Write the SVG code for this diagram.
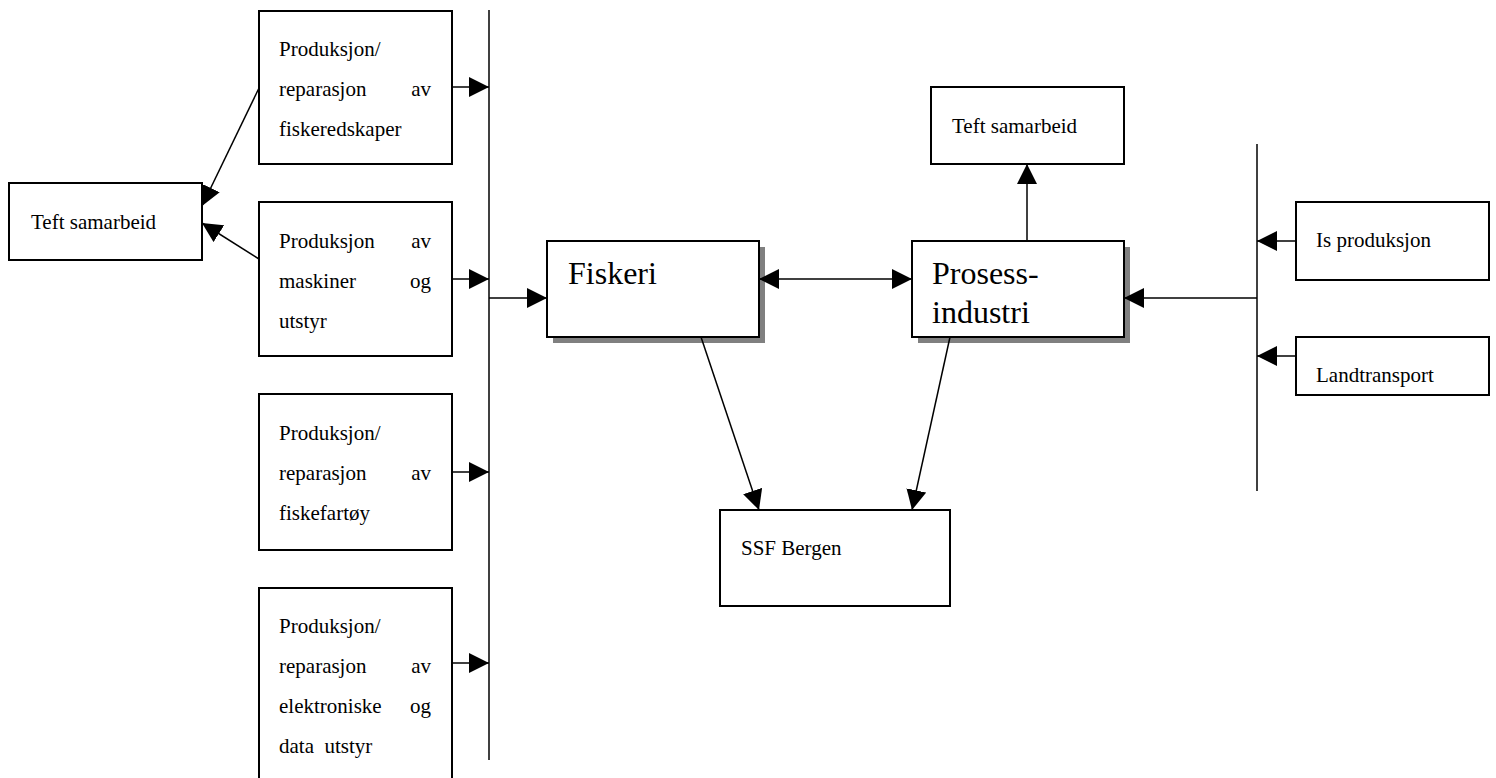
<svg xmlns="http://www.w3.org/2000/svg" width="1496" height="778" viewBox="0 0 1496 778">
  <style>
    .box { fill: #fff; stroke: #000; stroke-width: 2; }
    .shadow { fill: #808080; stroke: none; }
    .t { font-family: "Liberation Serif", "Times New Roman", serif; font-size: 21px; fill: #000; }
    .big { font-family: "Liberation Serif", "Times New Roman", serif; font-size: 32px; fill: #000; }
    .r { text-anchor: end; }
    .line { stroke: #000; stroke-width: 1.5; fill: none; }
    .arr { marker-end: url(#head); }
  </style>
  <defs>
    <marker id="head" viewBox="0 0 20 20" refX="20" refY="10" markerWidth="20" markerHeight="20" markerUnits="userSpaceOnUse" orient="auto-start-reverse">
      <path d="M0,0 L20,10 L0,20 z" fill="#000"/>
    </marker>
  </defs>

  <!-- supplier nodes on the left -->
  <g id="teft-left">
    <rect class="box" x="9" y="183" width="193" height="77"/>
    <text class="t" x="31" y="229">Teft samarbeid</text>
  </g>
  <g id="fiskeredskaper">
    <rect class="box" x="259" y="11" width="193" height="153"/>
    <text class="t" x="279" y="56">Produksjon/</text>
    <text class="t" x="279" y="96">reparasjon</text>
    <text class="t r" x="431" y="96">av</text>
    <text class="t" x="279" y="136">fiskeredskaper</text>
  </g>
  <g id="maskiner">
    <rect class="box" x="259" y="202" width="193" height="154"/>
    <text class="t" x="279" y="248">Produksjon</text>
    <text class="t r" x="431" y="248">av</text>
    <text class="t" x="279" y="288">maskiner</text>
    <text class="t r" x="431" y="288">og</text>
    <text class="t" x="279" y="328">utstyr</text>
  </g>
  <g id="fiskefartoy">
    <rect class="box" x="259" y="394" width="193" height="156"/>
    <text class="t" x="279" y="440">Produksjon/</text>
    <text class="t" x="279" y="480">reparasjon</text>
    <text class="t r" x="431" y="480">av</text>
    <text class="t" x="279" y="520">fiskefartøy</text>
  </g>
  <g id="elektronikk">
    <rect class="box" x="259" y="588" width="193" height="210"/>
    <text class="t" x="279" y="633">Produksjon/</text>
    <text class="t" x="279" y="673">reparasjon</text>
    <text class="t r" x="431" y="673">av</text>
    <text class="t" x="279" y="713">elektroniske</text>
    <text class="t r" x="431" y="713">og</text>
    <text class="t" x="279" y="753" xml:space="preserve">data  utstyr</text>
  </g>

  <!-- central nodes -->
  <g id="fiskeri">
    <rect class="shadow" x="553" y="247" width="212" height="96"/>
    <rect class="box" x="547" y="241" width="212" height="96"/>
    <text class="big" x="568" y="284">Fiskeri</text>
  </g>
  <g id="prosessindustri">
    <rect class="shadow" x="918" y="247" width="212" height="96"/>
    <rect class="box" x="912" y="241" width="212" height="96"/>
    <text class="big" x="932" y="284">Prosess-</text>
    <text class="big" x="932" y="323">industri</text>
  </g>
  <g id="teft-top">
    <rect class="box" x="931" y="87" width="193" height="77"/>
    <text class="t" x="952" y="133">Teft samarbeid</text>
  </g>
  <g id="ssf-bergen">
    <rect class="box" x="720" y="510" width="230" height="96"/>
    <text class="t" x="741" y="555">SSF Bergen</text>
  </g>

  <!-- supplier nodes on the right -->
  <g id="is-produksjon">
    <rect class="box" x="1296" y="202" width="193" height="78"/>
    <text class="t" x="1316" y="247">Is produksjon</text>
  </g>
  <g id="landtransport">
    <rect class="box" x="1296" y="337" width="193" height="58"/>
    <text class="t" x="1316" y="382">Landtransport</text>
  </g>

  <!-- connectors -->
  <g id="connectors">
    <!-- left bus -->
    <line class="line" x1="489" y1="10" x2="489" y2="760"/>
    <line class="line arr" x1="452" y1="87" x2="489" y2="87"/>
    <line class="line arr" x1="452" y1="279" x2="489" y2="279"/>
    <line class="line arr" x1="452" y1="472" x2="489" y2="472"/>
    <line class="line arr" x1="452" y1="663" x2="489" y2="663"/>
    <line class="line arr" x1="489" y1="298" x2="547" y2="298"/>
    <!-- to left Teft samarbeid -->
    <line class="line arr" x1="259" y1="88" x2="202" y2="206"/>
    <line class="line arr" x1="259" y1="259" x2="202" y2="223"/>
    <!-- Fiskeri <-> Prosessindustri -->
    <line class="line arr" x1="759" y1="279" x2="912" y2="279" marker-start="url(#head)"/>
    <!-- Prosessindustri up to Teft samarbeid -->
    <line class="line arr" x1="1027" y1="241" x2="1027" y2="164"/>
    <!-- down to SSF Bergen -->
    <line class="line arr" x1="701" y1="337" x2="759" y2="510"/>
    <line class="line arr" x1="950" y1="337" x2="912" y2="510"/>
    <!-- right bus -->
    <line class="line" x1="1257" y1="144" x2="1257" y2="491"/>
    <line class="line arr" x1="1296" y1="241" x2="1257" y2="241"/>
    <line class="line arr" x1="1296" y1="356" x2="1257" y2="356"/>
    <line class="line arr" x1="1257" y1="298" x2="1124" y2="298"/>
  </g>
</svg>
